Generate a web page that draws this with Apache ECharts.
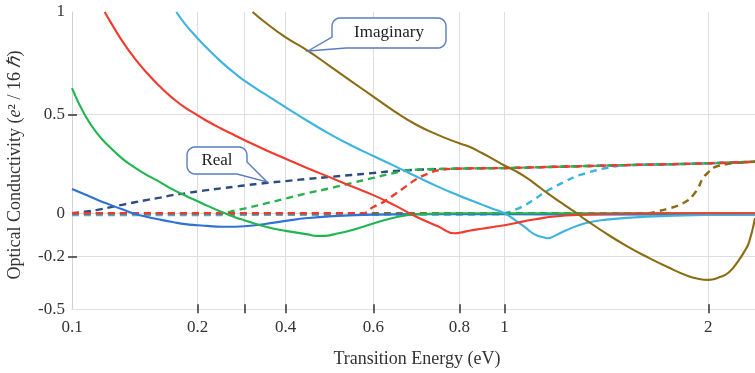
<!DOCTYPE html>
<html>
<head>
<meta charset="utf-8">
<script src="https://cdn.jsdelivr.net/npm/echarts@6/dist/echarts.min.js"></script>
<style>
html, body { margin: 0; padding: 0; background: #fff; }
#chart { width: 755px; height: 373px; }
</style>
</head>
<body>
<div id="chart"></div>
<script>
// ---- Axis ticks ----
const xTicks = [0.1, 0.2, 0.3, 0.4, 0.6, 0.8, 1, 2];
const xTickLabels = ['0.1', '0.2', '', '0.4', '0.6', '0.8', '1', '2'];
const xEnd = 2.229;
const yTicks = [-0.5, -0.2, 0, 0.5, 1];
const yTickLabels = ['-0.5', '-0.2', '0', '0.5', '1'];

// ---- Imaginary parts (solid) : [energy eV, conductivity] ----
const imBlue = [[0.10,0.123],[0.11,0.096],[0.12,0.069],[0.13,0.044],[0.14,0.020],[0.15,-0.002],[0.16,-0.017],[0.17,-0.029],[0.18,-0.040],[0.19,-0.050],[0.20,-0.055],[0.22,-0.058],[0.25,-0.062],[0.28,-0.062],[0.30,-0.060],[0.35,-0.049],[0.40,-0.035],[0.45,-0.022],[0.50,-0.014],[0.60,-0.006],[0.70,-0.004],[0.80,-0.004],[1.20,-0.005],[2.229,-0.006]];
const imGreen = [[0.10,0.629],[0.11,0.500],[0.12,0.405],[0.13,0.335],[0.14,0.277],[0.15,0.231],[0.16,0.192],[0.17,0.158],[0.18,0.121],[0.19,0.090],[0.20,0.061],[0.22,0.039],[0.25,0.008],[0.28,-0.018],[0.30,-0.032],[0.35,-0.061],[0.40,-0.081],[0.45,-0.097],[0.47,-0.104],[0.49,-0.104],[0.51,-0.097],[0.55,-0.078],[0.60,-0.047],[0.65,-0.019],[0.70,-0.005],[0.80,0],[2.229,0]];
const imRed = [[0.126,1.0],[0.13,0.958],[0.14,0.858],[0.15,0.773],[0.16,0.700],[0.17,0.636],[0.18,0.580],[0.19,0.533],[0.20,0.496],[0.22,0.467],[0.25,0.429],[0.28,0.394],[0.30,0.371],[0.35,0.322],[0.40,0.276],[0.45,0.228],[0.50,0.183],[0.55,0.137],[0.60,0.092],[0.65,0.040],[0.70,-0.016],[0.75,-0.060],[0.79,-0.092],[0.80,-0.090],[0.85,-0.079],[0.90,-0.071],[0.95,-0.063],[1.00,-0.055],[1.10,-0.036],[1.20,-0.020],[1.30,-0.010],[1.50,-0.003],[1.80,0],[2.229,0]];
const imCyan = [[0.183,1.0],[0.19,0.941],[0.20,0.871],[0.22,0.824],[0.25,0.758],[0.28,0.700],[0.30,0.665],[0.35,0.599],[0.40,0.535],[0.45,0.467],[0.50,0.402],[0.55,0.343],[0.60,0.290],[0.65,0.239],[0.70,0.186],[0.75,0.135],[0.80,0.089],[0.85,0.066],[0.90,0.044],[0.95,0.022],[1.00,0],[1.05,-0.030],[1.10,-0.064],[1.15,-0.098],[1.20,-0.113],[1.21,-0.115],[1.25,-0.102],[1.30,-0.079],[1.40,-0.045],[1.50,-0.029],[1.70,-0.016],[2.00,-0.007],[2.229,-0.005]];
const imOlive = [[0.32,1.0],[0.35,0.950],[0.40,0.876],[0.45,0.812],[0.50,0.737],[0.55,0.662],[0.60,0.587],[0.65,0.514],[0.70,0.448],[0.75,0.397],[0.80,0.354],[0.85,0.334],[0.90,0.305],[0.95,0.274],[1.00,0.242],[1.05,0.216],[1.10,0.186],[1.15,0.149],[1.20,0.110],[1.25,0.073],[1.30,0.038],[1.35,0.003],[1.40,-0.031],[1.50,-0.094],[1.60,-0.151],[1.70,-0.202],[1.80,-0.259],[1.90,-0.310],[1.95,-0.326],[2.00,-0.332],[2.05,-0.319],[2.10,-0.290],[2.15,-0.219],[2.18,-0.171],[2.20,-0.133],[2.229,-0.022]];

// ---- Real parts (dashed) : rising branch of each curve ----
const reNavy = [[0.10,0],[0.11,0.008],[0.12,0.017],[0.13,0.030],[0.14,0.043],[0.15,0.056],[0.16,0.068],[0.17,0.079],[0.18,0.092],[0.19,0.101],[0.20,0.111],[0.22,0.117],[0.25,0.126],[0.28,0.135],[0.30,0.141],[0.35,0.153],[0.40,0.163],[0.45,0.174],[0.50,0.184],[0.55,0.194],[0.60,0.204],[0.65,0.214],[0.70,0.220]];
const reGreen = [[0.10,0],[0.25,0],[0.28,0.014],[0.30,0.024],[0.35,0.049],[0.40,0.075],[0.45,0.102],[0.50,0.126],[0.55,0.153],[0.60,0.179],[0.65,0.205],[0.70,0.221]];
const reRed = [[0.10,0],[0.575,0],[0.60,0.032],[0.625,0.059],[0.65,0.096],[0.675,0.135],[0.70,0.172],[0.725,0.199],[0.75,0.217]];
const reCyan = [[0.10,-0.008],[0.95,-0.005],[1.00,0],[1.05,0.017],[1.10,0.041],[1.15,0.073],[1.20,0.108],[1.25,0.136],[1.30,0.162],[1.35,0.187],[1.40,0.203],[1.45,0.218],[1.50,0.229]];
const reOlive = [[0.10,0],[1.70,0],[1.75,0.010],[1.80,0.023],[1.85,0.039],[1.90,0.066],[1.925,0.091],[1.95,0.129],[1.975,0.180],[2.00,0.207],[2.025,0.230],[2.05,0.240],[2.10,0.251],[2.15,0.256]];
// shared high-energy plateau that every real part joins
const reTail = [[0.80,0.226],[0.90,0.228],[1.00,0.229],[1.20,0.234],[1.40,0.239],[1.60,0.244],[1.80,0.248],[2.00,0.253],[2.229,0.261]];

// ---- Piecewise axis scales: offset (px along the axis) of each tick ----
const xTickOffsets = [0, 125.7, 172.3, 213.7, 301.3, 387.3, 432.5, 636.3];
const yTickOffsets = [0, 52.6, 96, 194.8, 297.3];

function piecewise(v, vals, offs) {
  let i = 0;
  while (i < vals.length - 2 && v > vals[i + 1]) i++;
  const t = (v - vals[i]) / (vals[i + 1] - vals[i]);
  return offs[i] + t * (offs[i + 1] - offs[i]);
}
const toX = v => piecewise(v, xTicks, xTickOffsets);
const toY = v => piecewise(v, yTicks, yTickOffsets);
const project = arr => arr.map(([x, y]) => [toX(x), toY(y)]);
const withTail = rise => rise.concat(reTail.filter(p => p[0] > rise[rise.length - 1][0]));

const xLen = toX(xEnd);
const yLen = toY(1);

function labelFor(val, offs, labels) {
  const i = offs.findIndex(o => Math.abs(o - val) < 0.01);
  return i >= 0 ? labels[i] : '';
}

const SERIF = '"Liberation Serif", "Times New Roman", serif';
const TEXT = '#333';

// Callout outline: rounded box with a pointer replacing one bottom corner
function calloutPoints(x, y, w, h, r, corner, b1, b2, tip) {
  const pts = [];
  const arc = (cx, cy, a0) => {
    for (let k = 0; k <= 6; k++) {
      const a = a0 + (Math.PI / 2) * k / 6;
      pts.push([cx + r * Math.cos(a), cy + r * Math.sin(a)]);
    }
  };
  arc(x + r, y + r, Math.PI);
  arc(x + w - r, y + r, 1.5 * Math.PI);
  if (corner === 'br') {
    pts.push([x + w, y + h - b1], tip, [x + w - b2, y + h]);
  } else {
    arc(x + w - r, y + h - r, 0);
  }
  if (corner === 'bl') {
    pts.push([x + b1, y + h], tip, [x, y + h - b2]);
  } else {
    arc(x + r, y + h - r, 0.5 * Math.PI);
  }
  return pts;
}

function callout(x, y, w, h, corner, b1, b2, tip, text) {
  return [
    {
      type: 'polygon', z: 100,
      shape: { points: calloutPoints(x, y, w, h, 8, corner, b1, b2, tip) },
      style: { fill: '#fff', stroke: '#5b7dbf', lineWidth: 1.4 }
    },
    {
      type: 'text', z: 101, x: x + w / 2, y: y + h / 2,
      style: { text: text, fontFamily: SERIF, fontSize: 17, fill: '#222', align: 'center', verticalAlign: 'middle' }
    }
  ];
}

function line(name, data, color, dashed) {
  return {
    name: name, type: 'line', data: project(data),
    showSymbol: false, symbol: 'none', smooth: 0.5,
    xAxisIndex: 0, yAxisIndex: 0, silent: true,
    lineStyle: dashed
      ? { color: color, width: 2.4, type: [7, 5] }
      : { color: color, width: 2.1 }
  };
}

const chart = echarts.init(document.getElementById('chart'), null, { renderer: 'canvas' });
chart.setOption({
  animation: false,
  backgroundColor: '#fff',
  grid: { left: 72, top: 12, right: 0, bottom: 63.7, containLabel: false, outerBoundsMode: 'none' },
  xAxis: [
    {
      type: 'value', min: 0, max: xLen, position: 'bottom',
      axisLine: { show: true, lineStyle: { color: '#d2d2d2', width: 1 } },
      axisTick: { show: true, inside: true, length: 5, customValues: xTickOffsets.slice(1), lineStyle: { color: '#333', width: 1.5 } },
      axisLabel: {
        customValues: xTickOffsets.filter((o, i) => xTickLabels[i] !== ''),
        formatter: v => labelFor(v, xTickOffsets, xTickLabels),
        margin: 10, fontFamily: SERIF, fontSize: 17, color: TEXT
      },
      splitLine: { show: true, lineStyle: { color: '#dedede', width: 1 } }
    },
    {
      type: 'value', min: 0, max: xLen, position: 'top',
      axisLine: { show: true, lineStyle: { color: '#e0e0e0', width: 1 } },
      axisTick: { show: true, inside: true, length: 4, customValues: xTickOffsets.slice(1), lineStyle: { color: '#333', width: 1.5 } },
      axisLabel: { show: false },
      splitLine: { show: false }
    }
  ],
  yAxis: [
    {
      type: 'value', min: 0, max: yLen, position: 'left',
      axisLine: { show: true, lineStyle: { color: '#d2d2d2', width: 1 } },
      axisTick: { show: true, inside: true, length: 5, customValues: [toY(-0.2), toY(0), toY(0.5)], lineStyle: { color: '#333', width: 1.5 } },
      axisLabel: {
        customValues: yTickOffsets,
        formatter: v => labelFor(v, yTickOffsets, yTickLabels),
        margin: 7, fontFamily: SERIF, fontSize: 17, color: TEXT
      },
      splitLine: { show: true, lineStyle: { color: '#dedede', width: 1 } }
    },
    {
      type: 'value', min: 0, max: yLen, position: 'right',
      axisLine: { show: false },
      axisTick: { show: true, inside: true, length: 4, customValues: [toY(-0.2), toY(0.5)], lineStyle: { color: '#333', width: 1.5 } },
      axisLabel: { show: false },
      splitLine: { show: false }
    }
  ],
  series: [
    line('Re navy', withTail(reNavy), '#2d4b82', true),
    line('Re green', withTail(reGreen), '#27b24b', true),
    line('Re cyan', withTail(reCyan), '#3bb2e0', true),
    line('Re olive', withTail(reOlive), '#8b6b14', true),
    line('Re red', withTail(reRed), '#ee3a2b', true),
    line('Im blue', imBlue, '#2f72d4', false),
    line('Im green', imGreen, '#1fb551', false),
    line('Im cyan', imCyan, '#3db4e0', false),
    line('Im red', imRed, '#f03b2d', false),
    line('Im olive', imOlive, '#8c6c12', false)
  ],
  graphic: [
    {
      type: 'text', x: 15, y: 165, rotation: Math.PI / 2,
      style: {
        text: '{n|Optical Conductivity (}{i|e}{n|² / 16 }{i|ℏ}{n|)}',
        align: 'center', verticalAlign: 'middle',
        rich: {
          n: { fontFamily: SERIF, fontSize: 18, fill: TEXT },
          i: { fontFamily: SERIF, fontSize: 18, fontStyle: 'italic', fill: TEXT }
        }
      }
    },
    {
      type: 'text', x: 417, y: 359,
      style: { text: 'Transition Energy (eV)', fontFamily: SERIF, fontSize: 18, fill: TEXT, align: 'center', verticalAlign: 'middle' }
    },
    ...callout(332, 18, 114, 30, 'bl', 14, 11, [308, 51], 'Imaginary'),
    ...callout(187, 147, 60, 27, 'br', 12, 10, [267, 182], 'Real')
  ]
});
</script>
</body>
</html>
